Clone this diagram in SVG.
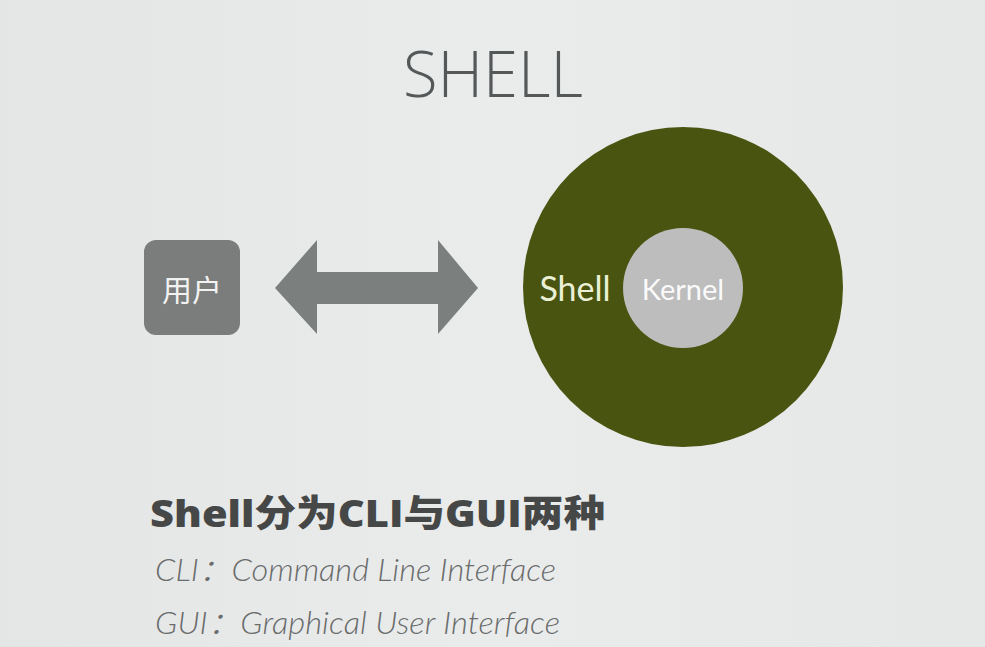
<svg xmlns="http://www.w3.org/2000/svg" width="985" height="647" viewBox="0 0 985 647">
<style>
.title{font-family:"Open Sans","Liberation Sans",sans-serif;font-weight:300;font-size:65px;fill:#555859}
.cjk{font-family:"Noto Sans CJK SC","Noto Sans",sans-serif}
.lbl{font-family:"Lato","Open Sans",sans-serif}
.head{font-family:"Open Sans","Noto Sans CJK SC",sans-serif;font-weight:800;font-size:37px;fill:#464848}
.sub{font-family:"Lato","Noto Sans CJK SC",sans-serif;font-style:italic;font-weight:300;font-size:31px;fill:#6a6c6c}
</style>
<defs>
<linearGradient id="bg" x1="0" y1="0" x2="1" y2="0">
<stop offset="0" stop-color="#e4e6e6"/>
<stop offset="0.5" stop-color="#eaecec"/>
<stop offset="1" stop-color="#e6e8e8"/>
</linearGradient>
</defs>
<rect width="985" height="647" fill="url(#bg)"/>
<text class="title" x="493" y="97" text-anchor="middle" textLength="180" lengthAdjust="spacingAndGlyphs">SHELL</text>
<g id="user">
<rect x="144" y="240" width="96" height="95" rx="12" fill="#7a7d7c"/>
<text class="cjk" x="192" y="301" text-anchor="middle" font-size="30" fill="#f2f2f2">用户</text>
</g>
<g id="connectors">
<polygon points="275,288 317,240 317,272 438,272 438,240 478,288 438,334 438,304 317,304 317,334" fill="#7b807e"/>
</g>
<g id="shell">
<circle cx="683" cy="287" r="160" fill="#4a5411"/>
<text class="lbl" x="575" y="301" text-anchor="middle" font-size="34" fill="#eaf0d6">Shell</text>
</g>
<g id="kernel">
<circle cx="683" cy="288" r="60" fill="#bdbdbd"/>
<text class="lbl" x="683" y="300" text-anchor="middle" font-size="29" fill="#fafafa">Kernel</text>
</g>
<text class="head" x="150" y="527" textLength="455" lengthAdjust="spacingAndGlyphs">Shell分为CLI与GUI两种</text>
<text class="sub" x="155" y="581" textLength="401" lengthAdjust="spacingAndGlyphs">CLI：Command Line Interface</text>
<text class="sub" x="155" y="634" textLength="405" lengthAdjust="spacingAndGlyphs">GUI：Graphical User Interface</text>
</svg>
